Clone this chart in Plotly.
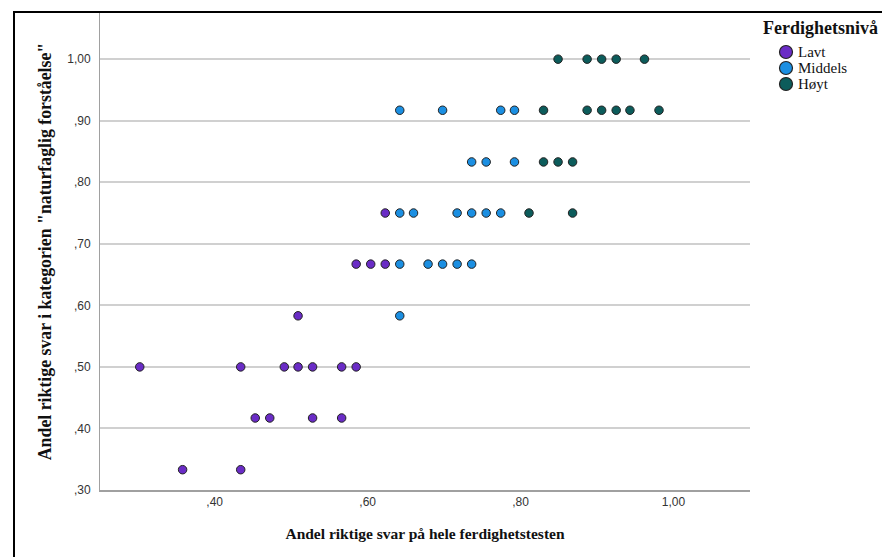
import plotly.graph_objects as go

# Data (x = share correct on whole test, y = share correct in category)
lavt_x = [0.358, 0.434,
          0.453, 0.472, 0.528, 0.566,
          0.302, 0.434, 0.491, 0.509, 0.528, 0.566, 0.585,
          0.509,
          0.585, 0.604, 0.623,
          0.623]
lavt_y = [0.333, 0.333,
          0.417, 0.417, 0.417, 0.417,
          0.500, 0.500, 0.500, 0.500, 0.500, 0.500, 0.500,
          0.583,
          0.667, 0.667, 0.667,
          0.750]

middels_x = [0.642,
             0.642, 0.679, 0.698, 0.717, 0.736,
             0.642, 0.660, 0.717, 0.736, 0.755, 0.774,
             0.736, 0.755, 0.792,
             0.642, 0.698, 0.774, 0.792]
middels_y = [0.583,
             0.667, 0.667, 0.667, 0.667, 0.667,
             0.750, 0.750, 0.750, 0.750, 0.750, 0.750,
             0.833, 0.833, 0.833,
             0.917, 0.917, 0.917, 0.917]

hoyt_x = [0.811, 0.868,
          0.830, 0.849, 0.868,
          0.830, 0.887, 0.906, 0.925, 0.943, 0.981,
          0.849, 0.887, 0.906, 0.925, 0.962]
hoyt_y = [0.750, 0.750,
          0.833, 0.833, 0.833,
          0.917, 0.917, 0.917, 0.917, 0.917, 0.917,
          1.000, 1.000, 1.000, 1.000, 1.000]

series_names = ["Lavt", "Middels", "Høyt"]
series_colors = ["#6a2cc6", "#1b8fe2", "#0c5c5b"]
series_x = [lavt_x, middels_x, hoyt_x]
series_y = [lavt_y, middels_y, hoyt_y]
legend_title = "Ferdighetsnivå"

y_ticks = [0.3, 0.4, 0.5, 0.6, 0.7, 0.8, 0.9, 1.0]
y_labels = [",30", ",40", ",50", ",60", ",70", ",80", ",90", "1,00"]
x_ticks = [0.4, 0.6, 0.8, 1.0]
x_labels = [",40", ",60", ",80", "1,00"]

W, H = 882, 557
ML, MR, MT, MB = 100, 132, 13, 67
PW, PH = W - ML - MR, H - MT - MB


def px_x(px):
    return (px - ML) / PW


def px_y(py):
    return (H - MB - py) / PH


fig = go.Figure()
for name, xs, ys, col in zip(series_names, series_x, series_y, series_colors):
    fig.add_trace(go.Scatter(
        x=xs, y=ys, mode="markers", name=name, showlegend=False,
        marker=dict(size=8.5, color=col, line=dict(color="#222222", width=1)),
    ))

serif = "Liberation Serif, Times New Roman, serif"
sans = "Liberation Sans, Arial, sans-serif"

# hand-made legend (SPSS style, tight rows)
shapes = [dict(type="rect", xref="paper", yref="paper",
               x0=px_x(14), x1=1.6, y0=-0.3, y1=px_y(12),
               line=dict(color="black", width=2), fillcolor="rgba(0,0,0,0)", layer="above")]
annotations = [dict(text="<b>" + legend_title + "</b>", xref="paper", yref="paper",
                    x=px_x(761), y=px_y(28), xanchor="left", yanchor="middle",
                    showarrow=False, font=dict(family=serif, size=18, color="#111"))]
r = 6.5
for i, (name, col) in enumerate(zip(series_names, series_colors)):
    cy = 52 + 16 * i
    cx = 786
    shapes.append(dict(type="circle", xref="paper", yref="paper",
                       x0=px_x(cx - r), x1=px_x(cx + r), y0=px_y(cy + r), y1=px_y(cy - r),
                       fillcolor=col, line=dict(color="#222222", width=1.2), layer="above"))
    annotations.append(dict(text=name, xref="paper", yref="paper",
                            x=px_x(796), y=px_y(cy), xanchor="left", yanchor="middle",
                            showarrow=False, font=dict(family=serif, size=15, color="#111")))

fig.update_layout(
    width=W, height=H,
    margin=dict(l=ML, r=MR, t=MT, b=MB),
    plot_bgcolor="white", paper_bgcolor="white",
    showlegend=False,
    xaxis=dict(
        range=[0.25, 1.10], tickvals=x_ticks, ticktext=x_labels,
        showgrid=False, zeroline=False,
        showline=True, linecolor="#a0a0a0", linewidth=2,
        ticks="", tickfont=dict(family=sans, size=12, color="#333"),
        title=dict(text="<b>Andel riktige svar på hele ferdighetstesten</b>",
                   font=dict(family=serif, size=15.5, color="#111"), standoff=20),
    ),
    yaxis=dict(
        range=[0.30, 1.075], tickvals=y_ticks, ticktext=y_labels,
        showgrid=True, gridcolor="#d0d0d0", gridwidth=1.5, zeroline=False,
        showline=True, linecolor="#a0a0a0", linewidth=1,
        ticks="", ticklabelstandoff=6,
        tickfont=dict(family=sans, size=12, color="#333"),
        title=dict(text="<b>Andel riktige svar i kategorien \"naturfaglig forståelse\"</b>",
                   font=dict(family=serif, size=17.8, color="#111"), standoff=11),
    ),
    shapes=shapes,
    annotations=annotations,
)

fig.write_html("out.html")
